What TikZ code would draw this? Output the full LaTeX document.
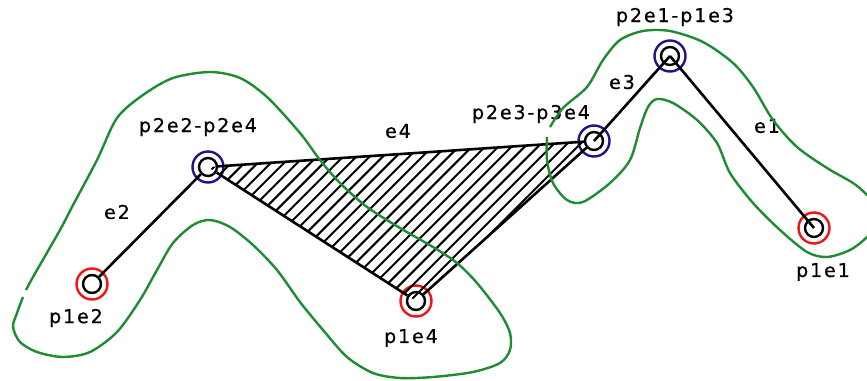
\documentclass[tikz,border=0pt]{standalone}
\usepackage{fontspec}
\newfontfamily\labelfont[LetterSpace=10,FakeBold=0.6]{DejaVu Sans}
\usetikzlibrary{positioning,calc}
\definecolor{regiongreen}{RGB}{30,140,50}
\definecolor{ringblue}{RGB}{30,20,140}
\definecolor{ringred}{RGB}{240,20,20}

\begin{document}
\begin{tikzpicture}[x=1pt, y=-1pt,
    redring/.style={circle, draw=ringred, line width=2.4pt, minimum size=31pt, inner sep=0pt},
    bluering/.style={circle, draw=ringblue, line width=2.4pt, minimum size=31pt, inner sep=0pt},
    hole/.style={circle, draw=black, line width=2.4pt, minimum size=18pt, inner sep=0pt},
    edgeline/.style={black, line width=2.6pt},
    region/.style={regiongreen, line width=2.4pt},
    lbl/.style={font=\labelfont\fontsize{19}{19}\selectfont, inner sep=0pt}]
    \useasboundingbox (0,0) rectangle (867,380);

    \node[redring] (r1e2) at (92,284) {};
    \node[bluering] (r2e2) at (208,167) {};
    \node[redring] (r1e4) at (416,301) {};
    \node[bluering] (r2e3) at (594,141) {};
    \node[bluering] (r2e1) at (670,56) {};
    \node[redring] (r1e1) at (814,228) {};

    \node[hole] (p1e2) at (r1e2.center) {};
    \node[hole] (p2e2) at (r2e2.center) {};
    \node[hole] (p1e4) at (r1e4.center) {};
    \node[hole] (p2e3) at (r2e3.center) {};
    \node[hole] (p2e1) at (r2e1.center) {};
    \node[hole] (p1e1) at (r1e1.center) {};

    % hatching of the triangle
    \begin{scope}
        \clip (p2e2.center) -- (p2e3.center) -- (p1e4.center) -- cycle;
        \foreach \c in {381,394.2,...,740}
            \draw[black, line width=2pt] (\c-400,400) -- (\c,0);
    \end{scope}

    \draw[edgeline] (p1e2) -- (p2e2);
    \draw[edgeline] (p2e2) -- (p2e3);
    \draw[edgeline] (p2e2) -- (p1e4);
    \draw[edgeline] (p1e4) -- (p2e3);
    \draw[edgeline] (p2e3.center) -- (p2e1.center);
    \draw[edgeline] (p2e1.center) -- (p1e1.center);

    \node[lbl] (e2) at (117,212) {e2};
    \node[lbl] (e4) at (398,131) {e4};
    \node[lbl] (e3) at (622,82) {e3};
    \node[lbl] (e1) at (767,126) {e1};
    \node[lbl] (t1e2) at (76,318) {p1e2};
    \node[lbl] (t2e2) at (198,127) {p2e2-p2e4};
    \node[lbl] (t1e4) at (411,338) {p1e4};
    \node[lbl] (t2e3) at (531,114) {p2e3-p3e4};
    \node[lbl] (t2e1) at (675,17) {p2e1-p1e3};
    \node[lbl] (t1e1) at (823,272) {p1e1};

    \draw[region] plot[smooth, tension=0.5] coordinates {
        (26,290) (33,277) (60,230) (72,207) (97,160) (117,118) (143,95) (173,78) (210,72)
        (240,78) (267,97) (300,133) (320,160) (340,183) (367,207) (400,228) (433,247)
        (457,263) (477,283) (500,313) (510,333) (510,350) (500,363) (473,372) (433,377)
        (400,378) (373,373) (347,357) (323,330) (300,302) (277,270) (253,245) (230,227)
        (210,220) (193,225) (173,243) (157,270) (140,300) (117,332) (90,352) (63,357)
        (37,352) (20,342) (13,327) (17,313) (23,297)};
    \draw[region] plot[smooth, tension=0.5] coordinates {
        (550,127) (563,108) (587,87) (603,60) (620,40) (643,31) (670,31) (703,42) (733,63)
        (753,87) (773,120) (797,147) (827,168) (853,183) (867,195) (885,215) (867,237)
        (850,250) (827,257) (807,252) (780,230) (753,203) (730,173) (717,143) (697,120)
        (673,103) (657,99) (648,107) (640,128) (630,160) (610,183) (583,202) (567,200)
        (553,183) (547,160) (547,137)};
\end{tikzpicture}
\end{document}
